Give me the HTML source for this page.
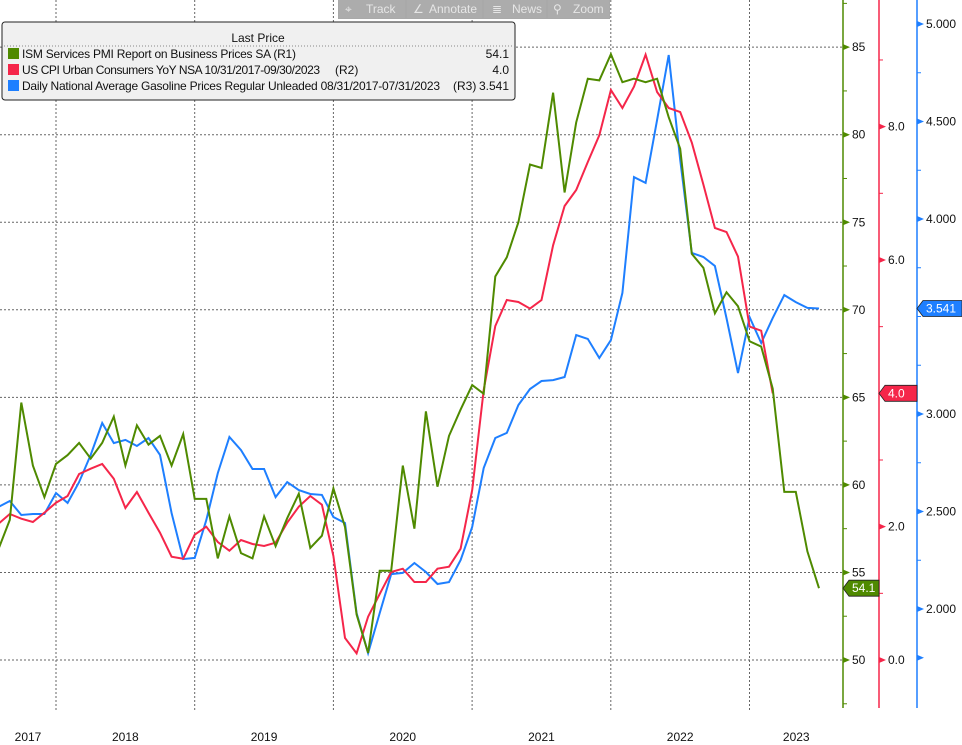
<!DOCTYPE html>
<html><head><meta charset="utf-8"><style>
body{margin:0;background:#fff;width:962px;height:745px;overflow:hidden;font-family:"Liberation Sans",sans-serif}
svg{display:block}
</style></head><body>
<svg id="chart" width="962" height="745" xmlns="http://www.w3.org/2000/svg" font-family="Liberation Sans, sans-serif">
<g id="grid"></g>
<g id="series"></g>
<g id="axes"></g>
<g id="toolbar">
<rect x="338" y="0" width="272" height="19" fill="#a9a9a9"/>
<g><rect x="339" y="0" width="66" height="18" fill="#acacac"/><text x="366" y="13" font-size="12" fill="#e6e6e6">Track</text><text x="345" y="13" font-size="12" fill="#e6e6e6">⌖</text></g>
<g><rect x="407" y="0" width="75" height="18" fill="#acacac"/><text x="429" y="13" font-size="12" fill="#e6e6e6">Annotate</text><text x="413" y="13" font-size="12" fill="#e6e6e6">∠</text></g>
<g><rect x="484" y="0" width="62" height="18" fill="#acacac"/><text x="512" y="13" font-size="12" fill="#e6e6e6">News</text><text x="492" y="13" font-size="12" fill="#e6e6e6">≣</text></g>
<g><rect x="548" y="0" width="61" height="18" fill="#acacac"/><text x="573" y="13" font-size="12" fill="#e6e6e6">Zoom</text><text x="553" y="13" font-size="12" fill="#e6e6e6">⚲</text></g>
</g>
<g id="legend">
<rect x="2" y="22" width="513" height="78" rx="3" fill="#f0f0f0" stroke="#222" stroke-width="1"/>
<text x="258" y="42" font-size="12" text-anchor="middle" fill="#111">Last Price</text>
<line x1="4" y1="46" x2="513" y2="46" stroke="#888" stroke-dasharray="1,2"/>
<g><rect x="8" y="48" width="11" height="11" fill="#4f8a00"/><text x="22" y="58" font-size="12" fill="#111" textLength="274" lengthAdjust="spacing">ISM Services PMI Report on Business Prices SA  (R1)</text><text x="509" y="58" font-size="12" text-anchor="end" fill="#111">54.1</text></g>
<g><rect x="8" y="64" width="11" height="11" fill="#f5264a"/><text x="22" y="74" font-size="12" fill="#111" textLength="298" lengthAdjust="spacing">US CPI Urban Consumers YoY NSA 10/31/2017-09/30/2023</text><text x="335" y="74" font-size="12" fill="#111">(R2)</text><text x="509" y="74" font-size="12" text-anchor="end" fill="#111">4.0</text></g>
<g><rect x="8" y="80" width="11" height="11" fill="#1e7fff"/><text x="22" y="90" font-size="12" fill="#111" textLength="418" lengthAdjust="spacing">Daily National Average Gasoline Prices Regular Unleaded 08/31/2017-07/31/2023</text><text x="453" y="90" font-size="12" fill="#111">(R3)</text><text x="509" y="90" font-size="12" text-anchor="end" fill="#111">3.541</text></g>
</g>
</svg>
<script>
const ismValues=[56.3,58.0,64.7,61.1,59.3,61.2,61.7,62.4,61.5,62.4,63.9,61.1,63.4,62.3,62.8,61.1,62.9,59.2,59.2,55.8,58.2,56.1,55.8,58.2,56.5,58.1,59.5,56.4,57.1,59.8,57.6,52.6,50.4,55.1,55.1,61.1,57.5,64.2,59.9,62.8,64.3,65.7,65.2,71.9,73.0,75.0,78.3,78.1,82.4,76.7,80.7,83.2,83.1,84.6,83.0,83.2,83.0,83.2,81.0,79.2,73.2,72.4,69.8,71.0,70.2,68.2,67.9,65.5,59.6,59.6,56.2,54.1];
const cpiValues=[2.04,2.19,2.12,2.07,2.21,2.36,2.46,2.79,2.87,2.94,2.72,2.28,2.52,2.21,1.91,1.55,1.52,1.88,2.0,1.77,1.64,1.8,1.74,1.71,1.76,2.06,2.3,2.46,2.33,1.56,0.33,0.1,0.65,0.99,1.32,1.37,1.17,1.17,1.37,1.4,1.67,2.55,4.05,5.01,5.4,5.37,5.27,5.4,6.22,6.81,7.05,7.47,7.87,8.55,8.28,8.6,9.08,8.52,8.28,8.22,7.76,7.13,6.48,6.42,6.05,5.0,4.94,4.0];
const gasValues=[2.523,2.554,2.482,2.487,2.487,2.595,2.544,2.651,2.79,2.954,2.851,2.867,2.836,2.877,2.79,2.492,2.256,2.262,2.456,2.697,2.882,2.815,2.718,2.718,2.574,2.651,2.61,2.59,2.585,2.472,2.441,1.979,1.774,1.979,2.179,2.185,2.236,2.19,2.128,2.138,2.251,2.421,2.723,2.877,2.903,3.046,3.128,3.169,3.174,3.19,3.405,3.385,3.287,3.379,3.621,4.215,4.185,4.508,4.841,4.303,3.826,3.805,3.759,3.492,3.21,3.497,3.364,3.492,3.61,3.574,3.544,3.541];
const yearLabels=["2017","2018","2019","2020","2021","2022","2023"];
const ismTicks=[50,55,60,65,70,75,80,85];
const cpiTicks=[0,2,4,6,8];
const gasTicks=[1.75,2.0,2.25,2.5,2.75,3.0,3.25,3.5,3.75,4.0,4.25,4.5,4.75,5.0];
const startYear=2017,startMonth=8;

const NS="http://www.w3.org/2000/svg";
function mk(tag,attrs,parent){const e=document.createElementNS(NS,tag);for(const k in attrs)e.setAttribute(k,attrs[k]);parent.appendChild(e);return e;}
function xOf(i){return 56+(i+(startMonth-1)-12*(2018-startYear))*11.56;}
function xYear(y){return 56+(y-2018)*138.7;}
function yIsm(v){return 660-(v-50)*17.51;}
function yCpi(v){return 660-v*66.67;}
function yGas(v){return 609-(v-2)*195;}
const grid=document.getElementById('grid'),series=document.getElementById('series'),axes=document.getElementById('axes');

ismTicks.forEach(v=>{const l=mk('line',{x1:0,x2:843,y1:yIsm(v),y2:yIsm(v),stroke:'#666','stroke-dasharray':'2,2','stroke-width':1},grid);

});
yearLabels.forEach((y,k)=>{const yr=+y;
if(yr>2017){const l=mk('line',{x1:xYear(yr),x2:xYear(yr),y1:0,y2:712,stroke:'#666','stroke-dasharray':'2,2'},grid);

}
const a=Math.max(0,xYear(yr)),b=Math.min(843,xYear(yr+1));
const t=mk('text',{x:(a+b)/2,y:741,'font-size':12,'text-anchor':'middle',fill:'#111'},axes);t.textContent=y;

});

function drawLine(vals,yf,color,name){const d=vals.map((v,i)=>(i?'L':'M')+xOf(i).toFixed(1)+','+yf(v).toFixed(1)).join('');
const p=mk('path',{d:d,fill:'none',stroke:color,'stroke-width':2,'stroke-linejoin':'miter'},series);

}
drawLine(gasValues,yGas,'#1e7fff','gasoline-line');
drawLine(cpiValues,yCpi,'#f5264a','cpi-line');
drawLine(ismValues,yIsm,'#4f8a00','ism-line');

function axis(x,color,ticks,yf,fmt,major,name){
const g=mk('g',{},axes);


mk('line',{x1:x,x2:x,y1:0,y2:708,stroke:color,'stroke-width':1.5},g);
ticks.forEach(v=>{const y=yf(v);if(y<0||y>708)return;
if(major(v)){mk('path',{d:`M${x},${y-3}L${x+7},${y}L${x},${y+3}Z`,fill:color},g);
const t=mk('text',{x:x+9,y:y+4,'font-size':12,fill:'#111'},g);t.textContent=fmt(v);

}
else mk('line',{x1:x,x2:x+4,y1:y,y2:y,stroke:color},g);});}
const ismAll=[];for(let v=47.5;v<=87.5;v+=2.5)ismAll.push(v);
axis(843,'#4f8a00',ismAll,yIsm,v=>String(v),v=>ismTicks.includes(v),'ism-axis');
const cpiAll=[];for(let v=-1;v<=10;v++)cpiAll.push(v);
axis(879,'#f5264a',cpiAll,yCpi,v=>v.toFixed(1),v=>cpiTicks.includes(v)&&v!==4,'cpi-axis');
axis(917,'#1e7fff',gasTicks,yGas,v=>v.toFixed(3),v=>Math.abs(v*2-Math.round(v*2))<1e-6&&v!==3.5,'gasoline-axis');
mk('path',{d:`M917,${yGas(1.75)-3}L924,${yGas(1.75)}L917,${yGas(1.75)+3}Z`,fill:'#1e7fff'},axes);

function badge(x,w,y,color,txt,name){const g=mk('g',{},axes);


mk('path',{d:`M${x},${y}L${x+6},${y-8}L${x+w},${y-8}L${x+w},${y+8}L${x+6},${y+8}Z`,fill:color,stroke:'#222','stroke-width':0.8},g);
const t=mk('text',{x:x+9,y:y+4,'font-size':12,fill:'#fff'},g);t.textContent=txt;}
badge(843,36,yIsm(ismValues[ismValues.length-1]),'#4f8a00','54.1','ism-last-badge');
badge(879,38,yCpi(cpiValues[cpiValues.length-1]),'#f5264a','4.0','cpi-last-badge');
badge(917,45,yGas(gasValues[gasValues.length-1]),'#1e7fff','3.541','gasoline-last-badge');
</script>
</body></html>
